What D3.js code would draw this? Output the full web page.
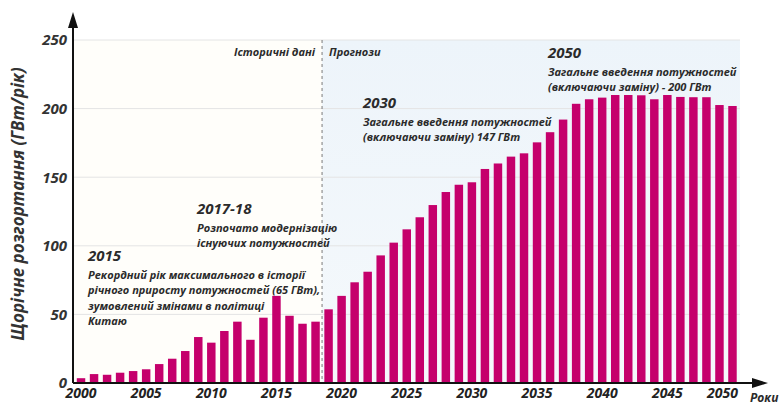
<!DOCTYPE html>
<html><head><meta charset="utf-8">
<script src="https://cdn.jsdelivr.net/npm/d3@7"></script>
<style>
body{margin:0;background:#fff;}
svg{display:block;font-family:"Open Sans","Noto Sans",sans-serif;}
</style></head>
<body><svg id="c" width="781" height="405"></svg>
<script>
const years = d3.range(2000, 2051);
const values = [3.5,6.5,6,7.5,8.7,10,13.8,17.7,23.3,33.5,29.4,37.9,44.7,31.5,47.6,63.5,49,43.2,44.7,
  53.7,63.5,73.4,81.1,93,102.3,112,120.8,129.7,139.2,144.5,146.3,156,160,165,167.4,175.4,182.8,192,203.5,
  206.8,208,209.9,209.9,209.7,206.8,209.9,208.5,208.3,208.3,202.6,201.9];
const yTicks = [0,50,100,150,200,250];
const xTicks = [2000,2005,2010,2015,2020,2025,2030,2035,2040,2045,2050];
const lastHistorical = 2018;
const yTitle = "Щорічне розгортання (ГВт/рік)";
const xTitle = "Роки";
const annotations = [
  {head:"2015", lines:["Рекордний рік максимального в історії","річного приросту потужностей (65 ГВт),","зумовлений змінами в політиці","Китаю"], x:88, y:255},
  {head:"2017-18", lines:["Розпочато модернізацію","існуючих потужностей"], x:197, y:208},
  {head:"2030", lines:["Загальне введення потужностей","(включаючи заміну) 147 ГВт"], x:363, y:102},
  {head:"2050", lines:["Загальне введення потужностей","(включаючи заміну) - 200 ГВт"], x:548, y:52}
];

const svg = d3.select("#c");
const x0 = 73, yBase = 383;
const x = d3.scaleBand().domain(years).range([74.5, 739]).paddingInner(0.35).paddingOuter(0.175);
const y = d3.scaleLinear().domain([0, 250]).range([383, 40]);
const step = x.step();
const splitX = x(lastHistorical) + x.bandwidth() + (step - x.bandwidth())/2;
const rightX = 740;

// backgrounds
const defs = svg.append("defs");
const g1 = defs.append("linearGradient").attr("id","fc").attr("x1",0).attr("y1",0).attr("x2",0).attr("y2",1);
g1.append("stop").attr("offset","0%").attr("stop-color","#edf4fa");
g1.append("stop").attr("offset","100%").attr("stop-color","#f5f9fc");
svg.append("rect").attr("x", x0).attr("y", y(250)).attr("width", splitX - x0).attr("height", yBase - y(250)).attr("fill", "#fffefa");
svg.append("rect").attr("x", splitX).attr("y", y(250)).attr("width", rightX - splitX).attr("height", yBase - y(250)).attr("fill", "url(#fc)");

// gridlines
svg.append("g").selectAll("line").data(yTicks.filter(d=>d>0)).join("line")
  .attr("x1", x0).attr("x2", rightX).attr("y1", d=>y(d)).attr("y2", d=>y(d))
  .attr("stroke", "#e4e4e4").attr("stroke-width", 1);

// bars
svg.append("g").selectAll("rect").data(years).join("rect")
  .attr("x", d=>x(d)).attr("width", x.bandwidth())
  .attr("y", (d,i)=>y(values[i])).attr("height", (d,i)=>yBase - y(values[i]))
  .attr("fill", "#c5006c");

// dashed separator
svg.append("line").attr("x1", splitX).attr("x2", splitX).attr("y1", y(250)).attr("y2", yBase)
  .attr("stroke", "#7a7a7a").attr("stroke-width", 1).attr("stroke-dasharray", "3,3");

const txtStyle = s => s.attr("font-style","italic").attr("font-weight","bold").attr("fill","#2b2b2b");

svg.append("text").attr("x", splitX - 7).attr("y", 56).attr("text-anchor","end").attr("font-size", 11)
  .text("Історичні дані").call(txtStyle);
svg.append("text").attr("x", splitX + 7).attr("y", 56).attr("font-size", 11)
  .text("Прогнози").call(txtStyle);

// y axis
const yAxis = d3.axisLeft(y).tickValues(yTicks).tickSize(0).tickPadding(6);
const ya = svg.append("g").attr("transform", `translate(${x0},0)`).call(yAxis);
ya.select(".domain").remove();
ya.selectAll("text").attr("font-size", 15).attr("font-family","\"Open Sans\",sans-serif").call(txtStyle).attr("fill","#333");

// x axis
const xAxis = d3.axisBottom(x).tickValues(xTicks).tickSize(0).tickPadding(5);
const xa = svg.append("g").attr("transform", `translate(0,${yBase})`).call(xAxis);
xa.select(".domain").remove();
xa.selectAll("text").attr("font-size", 14).attr("font-family","\"Open Sans\",sans-serif").call(txtStyle).attr("fill","#222")
  .attr("dx", d => d === 2050 ? -10 : 0);

// axis lines with arrows
svg.append("line").attr("x1", x0).attr("x2", x0).attr("y1", yBase).attr("y2", 22).attr("stroke","#111").attr("stroke-width",2);
svg.append("path").attr("d", `M${x0-5},28 L${x0},12 L${x0+5},28 Z`).attr("fill","#111");
svg.append("line").attr("x1", x0).attr("x2", 758).attr("y1", yBase).attr("y2", yBase).attr("stroke","#111").attr("stroke-width",2);
svg.append("path").attr("d", `M752,${yBase-5} L768,${yBase} L752,${yBase+5} Z`).attr("fill","#111");

svg.append("text").attr("x", 750).attr("y", 402).attr("font-size", 12).text(xTitle).call(txtStyle);

svg.append("text").attr("transform", "translate(24,204) rotate(-90)").attr("text-anchor","middle")
  .attr("font-size", 17).text(yTitle).call(txtStyle).attr("fill","#333");

// annotations
annotations.forEach(a => {
  const g = svg.append("g");
  g.append("text").attr("x", a.x).attr("y", a.y + 6).attr("font-size", 15).text(a.head).call(txtStyle);
  a.lines.forEach((l, i) => {
    g.append("text").attr("x", a.x).attr("y", a.y + 24 + i*15.3).attr("font-size", 11).text(l).call(txtStyle);
  });
});
</script></body></html>
